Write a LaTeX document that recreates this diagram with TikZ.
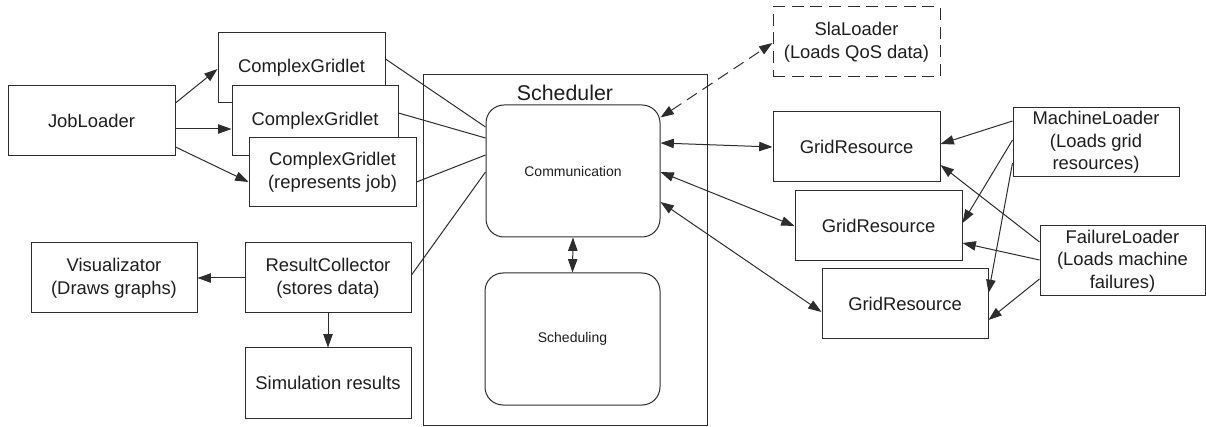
\documentclass[tikz,border=0pt]{standalone}
\usepackage{fontspec}
\setmainfont{Liberation Sans}
\usetikzlibrary{arrows.meta,calc}
\definecolor{ln}{RGB}{45,45,45}
\definecolor{tx}{RGB}{30,30,30}
\tikzset{
  box/.style={draw=ln, line width=0.75pt, fill=white, inner sep=0pt, align=center, text=tx,
    font=\fontsize{13.8}{17}\selectfont},
  rbox/.style={draw=ln, line width=0.75pt, fill=white, inner sep=0pt, align=center, text=tx,
    rounded corners=13.5pt, font=\fontsize{10.5}{13}\selectfont},
  conn/.style={draw=ln, line width=0.75pt},
  arr/.style={conn, -{Triangle[length=10pt,width=7pt]}},
  darr/.style={conn, {Triangle[length=10pt,width=7pt]}-{Triangle[length=10pt,width=7pt]}},
  dsh/.style={dash pattern=on 9pt off 5pt},
}
\begin{document}
\begin{tikzpicture}[x=0.75pt,y=-0.75pt]
\useasboundingbox (0,0) rectangle (1206,427);
% scheduler container
\node[box, minimum width=213pt, minimum height=262.5pt] (sched) at (565,250) {};
\node[text=tx, font=\fontsize{16}{19}\selectfont, inner sep=0pt] (schedlbl) at (565,93) {Scheduler};
\node[rbox, minimum width=130.5pt, minimum height=99pt] (comm) at (573,171) {Communication};
\node[rbox, minimum width=131.25pt, minimum height=99pt] (sching) at (572.5,339) {Scheduling};
% left side
\node[box, minimum width=125.25pt, minimum height=52.5pt] (jl) at (91.5,121) {JobLoader};
\node[box, minimum width=125.25pt, minimum height=52.5pt] (cg1) at (301.5,68) {ComplexGridlet};
\node[box, minimum width=124.5pt, minimum height=52.5pt] (cg2) at (315,121) {ComplexGridlet};
\node[box, minimum width=125.25pt, minimum height=51.75pt] (cg3) at (332.5,172.5) {ComplexGridlet\\(represents job)};
\node[box, minimum width=124.5pt, minimum height=52.5pt] (vis) at (114,278) {Visualizator\\(Draws graphs)};
\node[box, minimum width=124.5pt, minimum height=52.5pt] (rc) at (328,278) {ResultCollector\\(stores data)};
\node[box, minimum width=124.5pt, minimum height=52.5pt] (sim) at (328,383) {Simulation results};
% right side
\node[box, dsh, minimum width=125.25pt, minimum height=52.5pt] (sla) at (856.5,42) {SlaLoader\\(Loads QoS data)};
\node[box, minimum width=125.25pt, minimum height=52.5pt] (gr1) at (856.5,147) {GridResource};
\node[box, minimum width=125.25pt, minimum height=52.5pt] (gr2) at (878.5,226) {GridResource};
\node[box, minimum width=124.5pt, minimum height=52.5pt] (gr3) at (905,304) {GridResource};
\node[box, minimum width=124.5pt, minimum height=51.75pt] (ml) at (1096,142.5) {MachineLoader\\(Loads grid\\resources)};
\node[box, minimum width=123.75pt, minimum height=52.5pt] (fl) at (1122.5,261) {FailureLoader\\(Loads machine\\failures)};
% JobLoader arrows
\draw[arr] ($(jl.east)+(0,-18)$) -- ($(cg1.west)+(0,1)$);
\draw[arr] ($(jl.east)+(0,8)$) -- ($(cg2.west)+(0,8)$);
\draw[arr] ($(jl.east)+(0,26)$) -- ($(cg3.west)+(0,9.5)$);
% lines to communication
\draw[conn] ($(cg1.east)+(0,-9)$) -- ($(comm.west)+(0,-44)$);
\draw[conn] ($(cg2.east)+(0,-8)$) -- ($(comm.west)+(0,-33)$);
\draw[conn] ($(cg3.east)+(0,9.5)$) -- ($(comm.west)+(0,-16)$);
\draw[conn] ($(rc.east)+(0,-3)$) -- ($(comm.west)+(0,1)$);
% result collector
\draw[arr] (rc.west) -- (vis.east);
\draw[arr] (rc.south) -- (sim.north);
% comm <-> scheduling
\draw[darr] (comm.south) -- (sching.north);
% comm <-> grid resources
\draw[darr] ($(comm.east)+(0,-28)$) -- (gr1.west);
\draw[darr] ($(comm.east)+(0,1)$) -- (gr2.west);
\draw[darr] ($(comm.east)+(0,31)$) -- ($(gr3.west)+(0,8)$);
\draw[darr, dsh] ($(comm.north east)+(0,13)$) -- ($(sla.west)+(0,1)$);
% machine loader
\draw[arr] ($(ml.west)+(0,-21.5)$) -- ($(gr1.east)+(0,-3)$);
\draw[arr] ($(ml.west)+(0,-2.5)$) -- ($(gr2.east)+(0,-3)$);
\draw[arr] ($(ml.west)+(0,20.5)$) -- ($(gr3.east)+(0,-11)$);
% failure loader
\draw[arr] ($(fl.west)+(0,-19)$) -- ($(gr1.east)+(0,18)$);
\draw[arr] ($(fl.west)+(0,-1)$) -- ($(gr2.east)+(0,17)$);
\draw[arr] ($(fl.west)+(0,18)$) -- ($(gr3.east)+(0,16)$);
\end{tikzpicture}
\end{document}
